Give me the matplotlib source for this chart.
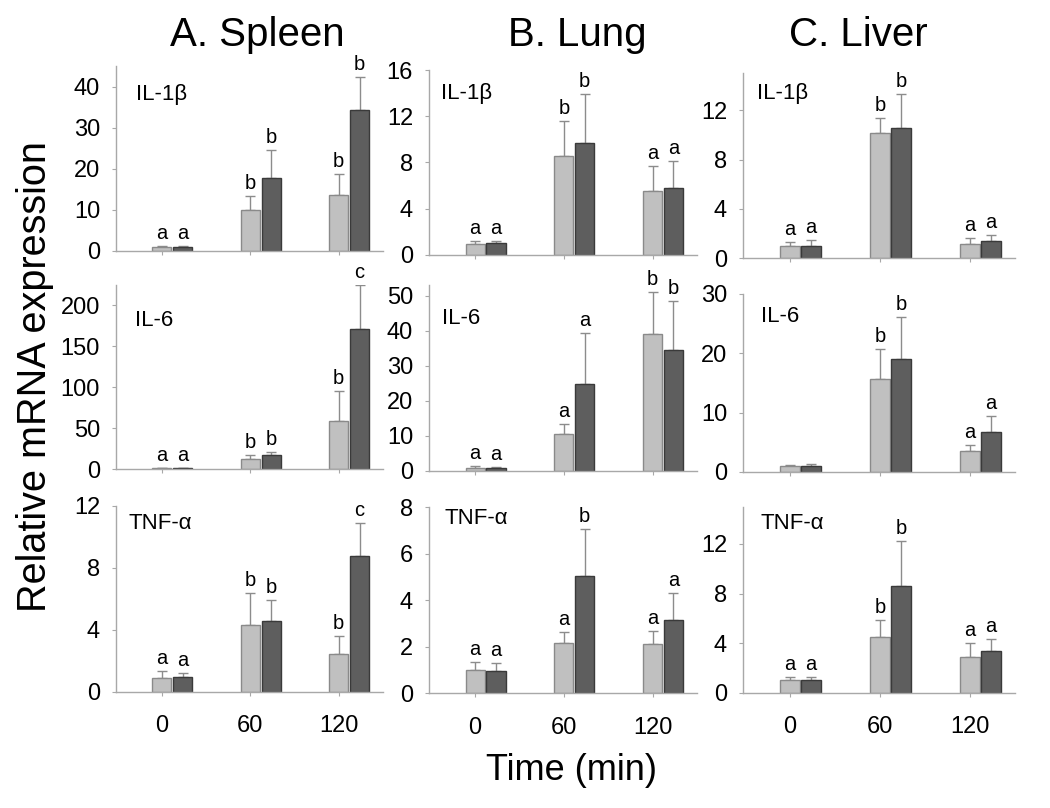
import matplotlib
matplotlib.use("Agg")
import matplotlib.pyplot as plt

plt.rcParams['font.family'] = ['Liberation Sans', 'DejaVu Sans']

# ---------------- data ----------------
timepoints = ["0", "60", "120"]
organs = ["A. Spleen", "B. Lung", "C. Liver"]
genes = ["IL-1\u03b2", "IL-6", "TNF-\u03b1"]

# Spleen
spleen_il1b_light = [1.0, 10.0, 13.5]
spleen_il1b_light_err = [0.15, 3.3, 5.1]
spleen_il1b_dark = [1.0, 17.8, 34.3]
spleen_il1b_dark_err = [0.1, 6.7, 8.0]
spleen_il1b_light_sig = ["a", "b", "b"]
spleen_il1b_dark_sig = ["a", "b", "b"]

spleen_il6_light = [1.0, 12.8, 59.4]
spleen_il6_light_err = [0.5, 5.2, 36.4]
spleen_il6_dark = [1.0, 17.3, 171.0]
spleen_il6_dark_err = [0.3, 4.0, 54.0]
spleen_il6_light_sig = ["a", "b", "b"]
spleen_il6_dark_sig = ["a", "b", "c"]

spleen_tnf_light = [0.9, 4.31, 2.44]
spleen_tnf_light_err = [0.46, 2.09, 1.14]
spleen_tnf_dark = [0.97, 4.59, 8.75]
spleen_tnf_dark_err = [0.23, 1.31, 2.15]
spleen_tnf_light_sig = ["a", "b", "b"]
spleen_tnf_dark_sig = ["a", "b", "c"]

# Lung
lung_il1b_light = [0.95, 8.52, 5.52]
lung_il1b_light_err = [0.25, 3.08, 2.18]
lung_il1b_dark = [1.03, 9.7, 5.78]
lung_il1b_dark_err = [0.12, 4.2, 2.31]
lung_il1b_light_sig = ["a", "b", "a"]
lung_il1b_dark_sig = ["a", "b", "a"]

lung_il6_light = [0.94, 10.55, 38.9]
lung_il6_light_err = [0.46, 2.75, 12.1]
lung_il6_dark = [0.9, 24.8, 34.6]
lung_il6_dark_err = [0.3, 14.4, 13.9]
lung_il6_light_sig = ["a", "a", "b"]
lung_il6_dark_sig = ["a", "a", "b"]

lung_tnf_light = [1.0, 2.15, 2.13]
lung_tnf_light_err = [0.35, 0.49, 0.56]
lung_tnf_dark = [0.95, 5.03, 3.17]
lung_tnf_dark_err = [0.34, 2.02, 1.16]
lung_tnf_light_sig = ["a", "a", "a"]
lung_tnf_dark_sig = ["a", "b", "a"]

# Liver
liver_il1b_light = [1.0, 10.2, 1.13]
liver_il1b_light_err = [0.3, 1.15, 0.49]
liver_il1b_dark = [1.0, 10.57, 1.4]
liver_il1b_dark_err = [0.48, 2.73, 0.46]
liver_il1b_light_sig = ["a", "b", "a"]
liver_il1b_dark_sig = ["a", "b", "a"]

liver_il6_light = [0.96, 15.6, 3.6]
liver_il6_light_err = [0.22, 5.1, 0.9]
liver_il6_dark = [0.95, 19.1, 6.69]
liver_il6_dark_err = [0.45, 7.1, 2.75]
liver_il6_light_sig = ["", "b", "a"]
liver_il6_dark_sig = ["", "b", "a"]

liver_tnf_light = [1.0, 4.5, 2.86]
liver_tnf_light_err = [0.3, 1.33, 1.14]
liver_tnf_dark = [1.0, 8.58, 3.4]
liver_tnf_dark_err = [0.3, 3.67, 0.97]
liver_tnf_light_sig = ["a", "b", "a"]
liver_tnf_dark_sig = ["a", "b", "a"]

# y axis ranges and ticks [row][col]
ymax = [[45, 16, 15], [225, 53, 30], [12, 8, 15]]
yticks = [
    [[0, 10, 20, 30, 40], [0, 4, 8, 12, 16], [0, 4, 8, 12]],
    [[0, 50, 100, 150, 200], [0, 10, 20, 30, 40, 50], [0, 10, 20, 30]],
    [[0, 4, 8, 12], [0, 2, 4, 6, 8], [0, 4, 8, 12]],
]

panels = [
    [
        (spleen_il1b_light, spleen_il1b_light_err, spleen_il1b_dark, spleen_il1b_dark_err, spleen_il1b_light_sig, spleen_il1b_dark_sig),
        (lung_il1b_light, lung_il1b_light_err, lung_il1b_dark, lung_il1b_dark_err, lung_il1b_light_sig, lung_il1b_dark_sig),
        (liver_il1b_light, liver_il1b_light_err, liver_il1b_dark, liver_il1b_dark_err, liver_il1b_light_sig, liver_il1b_dark_sig),
    ],
    [
        (spleen_il6_light, spleen_il6_light_err, spleen_il6_dark, spleen_il6_dark_err, spleen_il6_light_sig, spleen_il6_dark_sig),
        (lung_il6_light, lung_il6_light_err, lung_il6_dark, lung_il6_dark_err, lung_il6_light_sig, lung_il6_dark_sig),
        (liver_il6_light, liver_il6_light_err, liver_il6_dark, liver_il6_dark_err, liver_il6_light_sig, liver_il6_dark_sig),
    ],
    [
        (spleen_tnf_light, spleen_tnf_light_err, spleen_tnf_dark, spleen_tnf_dark_err, spleen_tnf_light_sig, spleen_tnf_dark_sig),
        (lung_tnf_light, lung_tnf_light_err, lung_tnf_dark, lung_tnf_dark_err, lung_tnf_light_sig, lung_tnf_dark_sig),
        (liver_tnf_light, liver_tnf_light_err, liver_tnf_dark, liver_tnf_dark_err, liver_tnf_light_sig, liver_tnf_dark_sig),
    ],
]

# ---------------- layout (pixels) ----------------
W, H = 1050, 808
col_lr = [(116, 383), (429, 697), (743, 1015)]
row_bt = [
    [(250.7, 66), (254.7, 70), (258.3, 73.3)],
    [(469.3, 285), (471, 285), (472, 294)],
    [(691.7, 506), (693.3, 507.3), (692.7, 506.7)],
]
label_pos = [
    [(0.075, 0.843), (0.043, 0.874), (0.052, 0.89)],
    [(0.073, 0.81), (0.049, 0.82), (0.065, 0.872)],
    [(0.048, 0.907), (0.056, 0.94), (0.065, 0.91)],
]

light_fc, light_ec = "#c0c0c0", "#8a8a8a"
dark_fc, dark_ec = "#5e5e5e", "#3a3a3a"
err_c = "#8c8c8c"
spine_c = "#a8a8a8"
bw = 0.215
off = 0.235

fig = plt.figure(figsize=(W / 100, H / 100), dpi=100)

xs = list(range(len(timepoints)))
for r in range(3):
    for c in range(3):
        l, rr = col_lr[c]
        b, t = row_bt[r][c]
        ax = fig.add_axes([l / W, 1 - b / H, (rr - l) / W, (b - t) / H])
        lm, le, dm, de, ls, ds = panels[r][c]
        xl = [x for x in xs]
        xd = [x + off for x in xs]
        ax.errorbar(xl, lm, yerr=[[0] * 3, le], fmt='none', ecolor=err_c,
                    elinewidth=1, capsize=3.5, capthick=1, zorder=1)
        ax.errorbar(xd, dm, yerr=[[0] * 3, de], fmt='none', ecolor=err_c,
                    elinewidth=1, capsize=3.5, capthick=1, zorder=1)
        ax.bar(xl, lm, width=bw, color=light_fc, edgecolor=light_ec, linewidth=1, zorder=2)
        ax.bar(xd, dm, width=bw, color=dark_fc, edgecolor=dark_ec, linewidth=1, zorder=2)
        for x, m, e, s in zip(xl, lm, le, ls):
            if s:
                ax.annotate(s, (x, m + e), xytext=(0, 5), textcoords='offset points',
                            ha='center', va='baseline', fontsize=14.5, clip_on=False)
        for x, m, e, s in zip(xd, dm, de, ds):
            if s:
                ax.annotate(s, (x, m + e), xytext=(0, 5), textcoords='offset points',
                            ha='center', va='baseline', fontsize=14.5, clip_on=False)
        ax.set_xlim(-0.52, 2.5)
        ax.set_ylim(0, ymax[r][c])
        ax.set_yticks(yticks[r][c])
        ax.set_xticks(xs)
        if r == 2:
            ax.set_xticklabels(timepoints, fontsize=17)
        else:
            ax.set_xticklabels([])
        ax.tick_params(axis='y', labelsize=17, length=3, color=spine_c, pad=8.5)
        ax.tick_params(axis='x', length=3, color=spine_c, pad=14)
        for sp in ['top', 'right']:
            ax.spines[sp].set_visible(False)
        for sp in ['left', 'bottom']:
            ax.spines[sp].set_color(spine_c)
            ax.spines[sp].set_linewidth(1)
        ax.patch.set_alpha(0)
        lx, ly = label_pos[r][c]
        ax.text(lx, ly, genes[r], transform=ax.transAxes, fontsize=16,
                ha='left', va='center')

title_x = [257, 577, 858]
for name, x in zip(organs, title_x):
    fig.text(x / W, 1 - 35 / H, name, fontsize=29, ha='center', va='center')

fig.text(35 / W, 1 - 376 / H, "Relative mRNA expression", fontsize=28.5,
         rotation=90, ha='center', va='center')
fig.text(571 / W, 1 - 770 / H, "Time (min)", fontsize=26, ha='center', va='center')

fig.savefig("out.png", dpi=100)
